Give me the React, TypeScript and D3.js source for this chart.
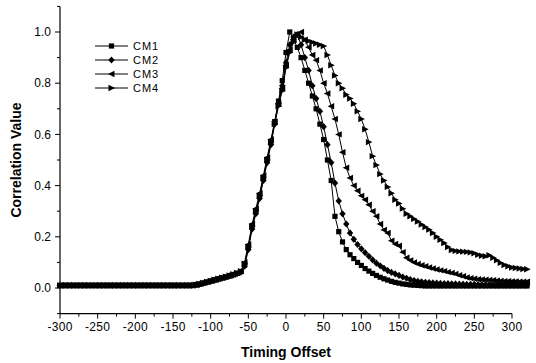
import React from "react";
import * as d3 from "d3";

const offsets = [
  -300, -295, -290, -285, -280, -275, -270, -265, -260, -255, -250, -245, -240, -235, -230, -225,
  -220, -215, -210, -205, -200, -195, -190, -185, -180, -175, -170, -165, -160, -155, -150, -145,
  -140, -135, -130, -125, -120, -115, -110, -105, -100, -95, -90, -85, -80, -75, -70, -65,
  -60, -55, -50, -45, -40, -35, -30, -25, -20, -15, -10, -5, 0, 5,
  10, 15, 20, 25, 30, 35, 40, 45, 50, 55, 60, 65, 70, 75, 80, 85,
  90, 95, 100, 105, 110, 115, 120, 125, 130, 135, 140, 145, 150, 155, 160, 165,
  170, 175, 180, 185, 190, 195, 200, 205, 210, 215, 220, 225, 230, 235, 240, 245,
  250, 255, 260, 265, 270, 275, 280, 285, 290, 295, 300, 305, 310, 315, 320,
];

const cm1 = [
  0.01, 0.01, 0.01, 0.01, 0.01, 0.01, 0.01, 0.01, 0.01, 0.01, 0.01, 0.01,
  0.01, 0.01, 0.01, 0.01, 0.01, 0.01, 0.01, 0.01, 0.01, 0.01, 0.01, 0.01,
  0.01, 0.01, 0.01, 0.01, 0.01, 0.01, 0.01, 0.01, 0.01, 0.01, 0.01, 0.01,
  0.012, 0.015, 0.019, 0.023, 0.027, 0.031, 0.035, 0.039, 0.043, 0.047, 0.052, 0.057,
  0.064, 0.09, 0.16, 0.24, 0.30, 0.36, 0.43, 0.50, 0.57, 0.65, 0.73, 0.81,
  0.92, 1.0, 0.97, 0.94, 0.90, 0.85, 0.80, 0.75, 0.70, 0.64, 0.58, 0.50, 0.42, 0.28,
  0.22, 0.18, 0.15, 0.13, 0.115, 0.10, 0.088, 0.076, 0.066, 0.057, 0.049, 0.042,
  0.036, 0.031, 0.026, 0.022, 0.019, 0.016, 0.014, 0.012, 0.011, 0.010, 0.009,
  0.008, 0.008, 0.008, 0.008, 0.008, 0.008, 0.008, 0.008, 0.008, 0.008, 0.008, 0.008, 0.008, 0.008,
  0.008, 0.008, 0.008, 0.008, 0.008, 0.008, 0.008, 0.008, 0.008, 0.008, 0.008, 0.008, 0.008, 0.008,
];

const cm2 = [
  0.01, 0.01, 0.01, 0.01, 0.01, 0.01, 0.01, 0.01, 0.01, 0.01, 0.01, 0.01,
  0.01, 0.01, 0.01, 0.01, 0.01, 0.01, 0.01, 0.01, 0.01, 0.01, 0.01, 0.01,
  0.01, 0.01, 0.01, 0.01, 0.01, 0.01, 0.01, 0.01, 0.01, 0.01, 0.01, 0.01,
  0.012, 0.014, 0.018, 0.022, 0.026, 0.030, 0.034, 0.038, 0.042, 0.047, 0.051, 0.056,
  0.062, 0.085, 0.15, 0.23, 0.29, 0.35, 0.42, 0.49, 0.56, 0.64, 0.72, 0.79,
  0.88, 0.95, 0.98, 0.99, 0.95, 0.90, 0.85, 0.79, 0.74, 0.69, 0.63, 0.56, 0.49, 0.41,
  0.34, 0.29, 0.25, 0.215, 0.19, 0.17, 0.153, 0.138, 0.124, 0.11, 0.097, 0.087,
  0.077, 0.068, 0.061, 0.055, 0.049, 0.043, 0.038, 0.033, 0.029, 0.026, 0.024,
  0.022, 0.021, 0.02, 0.019, 0.018, 0.017, 0.017, 0.016, 0.016, 0.015, 0.015, 0.014, 0.014, 0.014,
  0.013, 0.013, 0.013, 0.013, 0.012, 0.012, 0.012, 0.012, 0.012, 0.012, 0.012, 0.012, 0.012, 0.012,
];

const cm3 = [
  0.01, 0.01, 0.01, 0.01, 0.01, 0.01, 0.01, 0.01, 0.01, 0.01, 0.01, 0.01,
  0.01, 0.01, 0.01, 0.01, 0.01, 0.01, 0.01, 0.01, 0.01, 0.01, 0.01, 0.01,
  0.01, 0.01, 0.01, 0.01, 0.01, 0.01, 0.01, 0.01, 0.01, 0.01, 0.01, 0.01,
  0.012, 0.016, 0.020, 0.024, 0.028, 0.032, 0.036, 0.040, 0.044, 0.048, 0.053, 0.058,
  0.066, 0.10, 0.17, 0.25, 0.31, 0.37, 0.44, 0.51, 0.58, 0.65, 0.72, 0.78,
  0.87, 0.93, 0.97, 0.99, 1.0, 0.97, 0.94, 0.91, 0.89, 0.85, 0.80, 0.76, 0.71, 0.66,
  0.60, 0.53, 0.47, 0.43, 0.40, 0.38, 0.36, 0.345, 0.325, 0.30, 0.28, 0.25,
  0.227, 0.215, 0.185, 0.172, 0.165, 0.14, 0.118, 0.108, 0.10, 0.094, 0.089,
  0.085, 0.08, 0.076, 0.072, 0.069, 0.066, 0.062, 0.059, 0.055, 0.05, 0.046, 0.041, 0.038, 0.036,
  0.034, 0.033, 0.032, 0.031, 0.03, 0.029, 0.028, 0.027, 0.027, 0.026, 0.026, 0.025, 0.025, 0.025,
];

const cm4 = [
  0.01, 0.01, 0.01, 0.01, 0.01, 0.01, 0.01, 0.01, 0.01, 0.01, 0.01, 0.01,
  0.01, 0.01, 0.01, 0.01, 0.01, 0.01, 0.01, 0.01, 0.01, 0.01, 0.01, 0.01,
  0.01, 0.01, 0.01, 0.01, 0.01, 0.01, 0.01, 0.01, 0.01, 0.01, 0.01, 0.01,
  0.013, 0.016, 0.020, 0.024, 0.028, 0.032, 0.036, 0.040, 0.044, 0.049, 0.054, 0.059,
  0.066, 0.095, 0.16, 0.24, 0.30, 0.36, 0.43, 0.50, 0.57, 0.64, 0.71, 0.77,
  0.86, 0.92, 0.96, 0.99, 0.98, 0.97, 0.965, 0.96, 0.955, 0.95, 0.945, 0.91, 0.87, 0.83,
  0.80, 0.78, 0.755, 0.74, 0.72, 0.69, 0.66, 0.62, 0.57, 0.515, 0.48, 0.445,
  0.42, 0.395, 0.37, 0.345, 0.33, 0.31, 0.29, 0.28, 0.27, 0.26, 0.248,
  0.238, 0.228, 0.215, 0.2, 0.188, 0.176, 0.16, 0.148, 0.145, 0.143, 0.142, 0.141, 0.139, 0.136,
  0.13, 0.126, 0.124, 0.128, 0.118, 0.108, 0.098, 0.09, 0.085, 0.08, 0.078, 0.076, 0.074, 0.073,
];

const seriesNames = ["CM1", "CM2", "CM3", "CM4"];
const seriesValues = [cm1, cm2, cm3, cm4];
const xMajorTicks = [-300, -250, -200, -150, -100, -50, 0, 50, 100, 150, 200, 250, 300];
const xMinorTicks = [-275, -225, -175, -125, -75, -25, 25, 75, 125, 175, 225, 275];
const yMajorTicks = [0, 0.2, 0.4, 0.6, 0.8, 1.0];
const yMinorTicks = [-0.1, 0.1, 0.3, 0.5, 0.7, 0.9, 1.1];
const xTitle = "Timing Offset";
const yTitle = "Correlation Value";

const markerPaths = [
  "M-2.6,-2.6H2.6V2.6H-2.6Z",
  "M0,-3.6L3.2,0L0,3.6L-3.2,0Z",
  "M-3.6,0L3,-3.2L3,3.2Z",
  "M3.6,0L-3,-3.2L-3,3.2Z",
];

const FONT = "Arial, 'Liberation Sans', sans-serif";

export default function App() {
  const W = 536;
  const H = 363;
  const x = d3.scaleLinear().domain([-300, 300]).range([60, 512]);
  const y = d3.scaleLinear().domain([-0.1, 1.1]).range([313.6, 6.4]);
  const line = d3
    .line<[number, number]>()
    .x((d) => x(d[0]))
    .y((d) => y(d[1]));

  const series = seriesValues.map((vals) => {
    const n = Math.min(vals.length, offsets.length);
    const pts: [number, number][] = [];
    for (let i = 0; i < n; i++) pts.push([offsets[i], vals[i]]);
    return pts;
  });

  const x0 = x(-300);
  const x1 = x(300);
  const yb = y(-0.1);
  const yt = y(1.1);

  const legendX = 95;
  const legendY = 46;
  const legendStep = 14;

  return (
    <svg
      width={W}
      height={H}
      style={{ position: "absolute", left: 0, top: 0, background: "#fff" }}
      fontFamily={FONT}
    >
      <rect x={0} y={0} width={W} height={H} fill="#fff" />
      {series.map((pts, si) => (
        <g key={si}>
          <path d={line(pts) || ""} fill="none" stroke="#000" strokeWidth={1} />
          {pts.map((p, i) => (
            <path
              key={i}
              d={markerPaths[si]}
              transform={`translate(${x(p[0])},${y(p[1])})`}
              fill="#000"
            />
          ))}
        </g>
      ))}

      {/* axes */}
      <line x1={x0} x2={x0} y1={yt} y2={yb} stroke="#000" strokeWidth={1.2} />
      <line x1={x0} x2={x1} y1={yb} y2={yb} stroke="#000" strokeWidth={1.2} />
      {yMajorTicks.map((t) => (
        <g key={"ym" + t}>
          <line x1={x0 - 5} x2={x0} y1={y(t)} y2={y(t)} stroke="#000" strokeWidth={1} />
          <text x={x0 - 9} y={y(t)} dy="0.35em" textAnchor="end" fontSize={12} fill="#000">
            {t.toFixed(1)}
          </text>
        </g>
      ))}
      {yMinorTicks.map((t) => (
        <line key={"yn" + t} x1={x0 - 3} x2={x0} y1={y(t)} y2={y(t)} stroke="#000" strokeWidth={1} />
      ))}
      {xMajorTicks.map((t) => (
        <g key={"xm" + t}>
          <line x1={x(t)} x2={x(t)} y1={yb} y2={yb + 5} stroke="#000" strokeWidth={1} />
          <text x={x(t)} y={yb + 17} textAnchor="middle" fontSize={12} fill="#000" letterSpacing={0.3}>
            {t}
          </text>
        </g>
      ))}
      {xMinorTicks.map((t) => (
        <line key={"xn" + t} x1={x(t)} x2={x(t)} y1={yb} y2={yb + 3} stroke="#000" strokeWidth={1} />
      ))}

      <text x={x(0)} y={357} textAnchor="middle" fontSize={14} fontWeight="bold" fill="#000">
        {xTitle}
      </text>
      <text
        transform={`translate(21,${(yt + yb) / 2}) rotate(-90)`}
        textAnchor="middle"
        fontSize={14}
        fontWeight="bold"
        fill="#000"
      >
        {yTitle}
      </text>

      {/* legend */}
      {seriesNames.map((name, i) => {
        const ly = legendY + i * legendStep;
        return (
          <g key={name}>
            <line x1={legendX} x2={legendX + 33} y1={ly} y2={ly} stroke="#000" strokeWidth={1} />
            <path d={markerPaths[i]} transform={`translate(${legendX + 16.5},${ly})`} fill="#000" />
            <text x={legendX + 38} y={ly} dy="0.35em" fontSize={11} fill="#000" letterSpacing={1}>
              {name}
            </text>
          </g>
        );
      })}
    </svg>
  );
}
